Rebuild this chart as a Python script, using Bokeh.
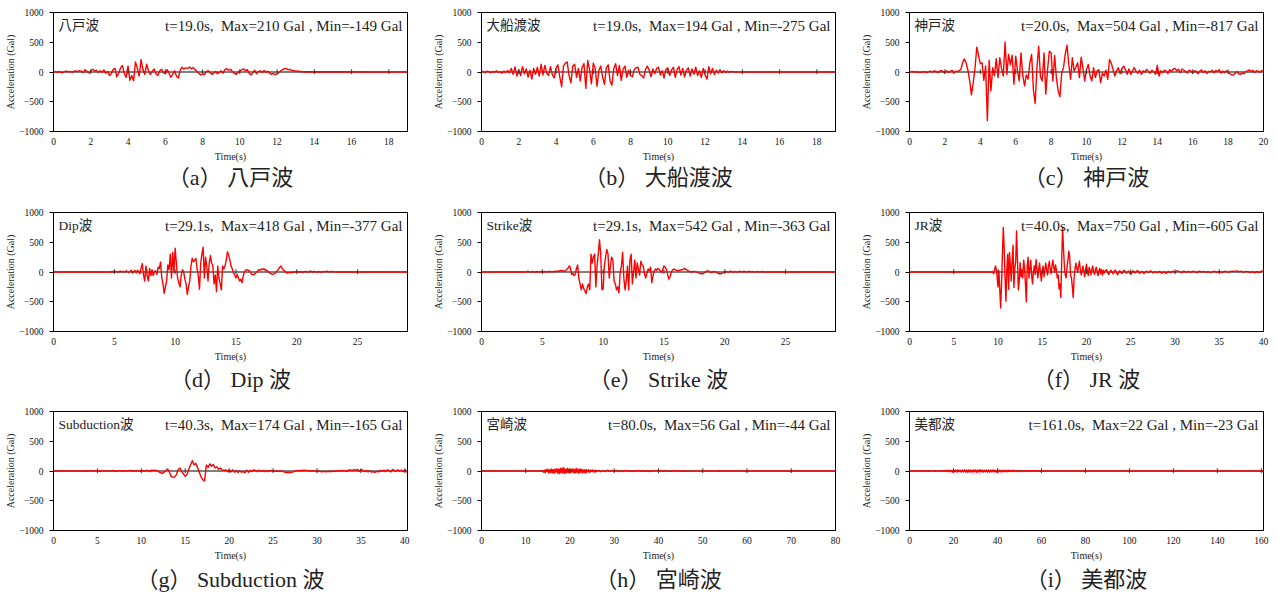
import numpy as np
from bokeh.plotting import figure
from bokeh.layouts import row, column
from bokeh.models import Span, Label, FixedTicker, Range1d, Title
from bokeh.embed import file_html
from bokeh.resources import INLINE

# ---------------------------------------------------------------------------
# Ground-motion records: acceleration in Gal, sampled at regular steps.
# Each record is a list of (start time [s], step [s], samples).
# ---------------------------------------------------------------------------
hachinohe_acc = [
    0, 5, -8, 10, -5, -12, 8, 15, 3, 10,
    -5, 12, 20, 5, 25, 10, -10, 40, 5, -15,
    20, 45, 15, 30, -10, 20, -5, 35, -20, 10,
    -60, -30, 40, 60, -80, -20, 70, 110, -30, -90,
    100, -140, -60, -149, 170, 60, -70, 210, 40, -40,
    130, 20, -40, 10, 50, -30, -60, 20, 45, -10,
    -30, 40, -20, -90, -40, 20, -70, -100, 30, 80,
    50, 70, 60, 85, 55, 75, 40, 10, -20, -50,
    -30, -45, 10, 20, -10, -40, -20, 10, -30, -10,
    20, -20, 40, 55, 30, 45, 10, -20, -40, -10,
    20, 35, 55, 20, 40, -20, -50, -10, 30, -30,
    10, 20, -10, 25, -5, 15, -20, -40, -25, -45,
    -30, -10, 20, 40, 55, 60, 35, 45, 20, 25,
    10, 20, 5, 12, 0, 5,
]

ofunato_acc = [
    0, 10, -10, 15, 5, -15, 10, -5, 20, -10,
    5, -20, 15, -10, 25, -15, 60, -40, 85, -70,
    40, -60, 90, -30, 50, -85, 30, -120, 60, -40,
    80, -70, 130, -50, 110, -20, -60, 90, -40, -100,
    60, 120, -80, -247, 100, 150, 170, -60, -180, 100,
    130, -90, 60, -150, 80, 140, -275, 194, 40, -200,
    150, 60, -240, 30, 100, -80, -208, 70, 120, -150,
    -220, 60, 140, -60, 110, -140, 50, 100, -90, 30,
    -60, -80, 40, 70, 80, -40, -60, -100, 40, 100,
    30, -80, 50, -30, 60, 80, -50, 20, -100, 40,
    70, -60, 30, 80, -90, 40, 90, -50, 60, -80,
    30, 70, -70, 50, -40, 80, -60, 20, -90, 60,
    -50, -120, 90, -30, 60, -40, 30, -20, 40, -15,
    20, -10, 15, -5, 10, 5, 0,
]

kobe_acc = [
    5, 0, 10, -5, 8, -10, 3, -8, 5, 0,
    -10, 8, 15, -5, 20, 10, -10, 15, 25, 5,
    -15, 20, -10, 10, 30, -20, 15, 5, 25, 40,
    160, 220, 150, 30, -150, -383, -180, 60, 417, 280,
    140, 155, -140, 100, -817, 200, -317, 72, -60, 222,
    -94, 240, 60, -67, 504, -40, 294, 120, 283, -205,
    267, 20, -150, 322, -60, -233, -50, -122, 155, 294,
    -300, -528, 70, 433, -80, -150, 322, -372, 40, 350,
    322, -150, 278, -100, -317, -417, -11, 72, 300, 450,
    128, -122, 239, 17, 80, 155, -94, 250, 60, -150,
    44, 128, -60, -150, 72, -94, 17, 40, -178, -20,
    -67, 30, -122, 211, 150, 44, -67, 20, 72, -30,
    60, 100, 40, -39, 50, -39, 20, 72, 10, -20,
    30, -39, 20, 0, 44, 10, -20, 30, 5, -40,
    111, -67, 20, -10, 30, 15, -25, 40, 10, 50,
    60, 20, 45, -10, 50, 30, 10, -15, 30, 20,
    -20, 25, 10, -30, 15, 35, -10, 20, -25, 10,
    5, 30, -15, 25, 10, 40, -20, 15, -10, 20,
    5, -30, -45, -50, -20, 10, -30, -40, -20, -30,
    10, 20, 35, 5, 30, -10, 20, 15, -5, 25, 10,
]

dip_acc = [
    0, 5, -5, 10, 0,
    20, 5, 10, -5, 8, 15, 0, 10, -5, 12,
    20, 5, -10, 15, 30, -20, 10, 25, -15, 30,
    10, -30, 60, 140, -50, -152, 100, -60, -150, 60,
    -60, 40, -60, 10, 20, -40, 80, 60, 170, -100,
    -200, -360, -250, -150, 120, 40, 300, -100, 330, 0,
    400, 150, -100, -180, -250, -50, 40, 0, -120, -200,
    -377, -250, -150, 100, 230, 170, 200, 230, 60, -60,
    -290, 150, 300, 418, -100, 250, 100, -150, 150, 280,
    150, 100, -200, -50, -330, 100, -100, -200, -300, 100,
    50, 100, 200, 340, 280, 200, 100, 50, -20, -50,
    -100, -40, -100, -150, -120, -180, -60, 0, 30, 40,
    30, 20, -10, -40, -50, -40, -20, 0, 20, 40,
    30, 50, 45, 55, 30, 35, 15, 0, -20, -30,
    -40, -35, -20, 0, 20, 50, 80, 100, 60, 30,
    20, 0, -20, -15, -10, -5, -10, -5, 0, 5,
    10, 5, -5, 8, 0, -8, 5, 10, 3, -5,
    5, 12, 8, 0, 10, 5, -5, 3, 8, 0,
    -5, 5, 10, 3, 8, 12, 5, 0, 10, 5,
    8, 3, 0,
]

strike_acc = [
    0, 15, 5,
    0, -5, 10, 3, -5, 8, 0, 5, -3, 10,
    5, 0, 8, -5, 10, 3, 12, 5, 0, 10,
    8, 15, 5, 20, 10, 30, 15, 25, 10, 20,
    40, 60, 100, 80, -40, -20, -60, -40, 50, 120,
    -100, -200, -300, -200, -280, -320, -363, -250, -200, -300,
    300, 150, 250, 300, -250, 100, 300, 542, 300, -300,
    -280, 100, 250, 380, 300, -100, 100, 250, 200, -150,
    -200, -300, -250, -350, 0, 100, 330, -100, -300, -150,
    100, -300, 200, 300, -200, 0, 200, -100, 150, 50,
    -50, 180, 120, 100, -30, -100, -20, 50, 20, 80,
    -180, -60, 20, 50, 30, 60, 40, 20, -10, 40,
    100, 80, 50, -40, -120, -80, 0, 30, 50, 40,
    30, 20, 30, 25, 40, 35, 50, 60, 45, 30,
    20, 10, 5, 0, 10, 10, 5, 0, -10, -20,
    -25, -30, -30, -15, 0, 15, 20, 10, 0, -10,
    0, 10, 5, -5, -15, -30, -25, -30, -20, -5,
    5, 10, 3, -5, 8, 12, 5, 0, 8, 3,
    -5, 5, 10, 8, 0, 5, 12, 3, -3, 8,
    10, 5, 0, 8, 3, -5, 5, 10, 3, 0,
    5, 8, 3, 0,
]

jr_main_acc = [
    0, 10, -30, 20, 100, 60, -80,
    -250, 20, -290, -605, -200, 300, 750, 400, -100, -490,
    50, 300, -290, 330, 100, -150, 200, 450, -260, 60,
    180, 690, 200, -300, -150, 157, -80, 40, -100, 200,
    80, -200, -500, 100, 250, -100, 50, 200, -50, -200,
    0, 100, -40, 210, 60, -100, 40, 150, -20, -150,
    20, 100, -80, 50, 150, 30, -50, 100, 180, 50,
    -30, 100, 200, 80, 0, 120, 30, -100, -50, -280,
    -200, -430, 200, 750, 400, 100, -50, -100, 80, 200,
    350, 250, -50, -100, -250, -430, -100, 50, 150, 60,
    0, 100, 180, 40, -50, 20, 100, 10, -80, 50,
    130, 20, -60, 80, 30, -50, 40, 100, 10, -40,
    30, 80, 0, -60, 20, 60, -30, 40, -50, 30,
    -20,
]

jr_tail_acc = [
    40, -40, 30, -30, 35, -45, 20, -25, 30, -20,
    15, -40, 20, -15, 25, -20, 10, -25, 15, -10,
    20, -15, 5, -10, 10, -20, 5, -25, 10, -10,
    15, -5, 20, 5, -10, 15, -5, 10, -8, 12,
    5, -10, 15, 0, 10, -5, 8, -10, 5, 12,
    -5, 10, -8, 5, 12, -5, 8, 15, 10, 20,
    5, 15, -5, 10, 5, -10, 8, -15, 5, -10,
    12, 20,
]

subduction_acc = [
    0, 5, -3, 8, 2, -5, 6, 0, 4, -4,
    3, 7, -2, 5, -6, 2, 8, 0, -4, 5,
    2, -5, 8, 3, -3, 6, 10, 0, -6, 8,
    4, -8, 10, 5, -5, 12, 6, -10, 15, 8,
    15, 5, -15, -30, -40, -20, 10, 34, -20, -90,
    -110, -100, -60, 30, 50, -10, -50, -90, -60, 30,
    100, 174, 100, 130, 60, -20, -100, -150, -165, 100,
    60, 120, 80, 110, 50, 70, 30, 50, 20, 10,
    20, -10, 15, -15, 20, -20, 10, -25, 5, -20,
    -10, -30, 15, -20, 10, -10, 20, 5, -10, 15,
    -5, 10, -10, 8, -12, 5, 10, -8, 6, -5,
    3, -8, 5, -15, -20, -25, -22, -28, -20, -10,
    5, 10, -3, 12, 8, 15, 5, 10, -5, 8,
    0, 5, -10, 3, -8, -12, -5, -15, -8, -5,
    -12, 0, -8, 5, -5, 8, -3, 10, 5, -5,
    15, 20, 5, 25, 10, 30, -5, 20, 15, -10,
    10, -15, 5, -20, -10, -25, -5, -15, 10, -5,
    15, -10, 20, 5, -15, 25, 10, -5, 20, 0,
    15, -10, 20, -15,
]

miyazaki_main_acc = [
    -20, 15, -30, 25, -10, 30, -35, 20, -25, 35,
    -30, 25, -40, 30, -20, 40, -35, 30, -44, 45,
    -30, 50, -35, 56, -40, 30, -30, 45, -25, 35,
    -35, 30, -20, 40, -30, 25, -35, 45, -25, 30,
    -40, 35, -20, 30, -30, 20, -25, 25, -35, 20,
    -15, 20, -25, 15, -10, 20, -15, 10, -20, 15,
    -10,
]

miyazaki_tail_acc = [
    10, -12, 8, -10, 15, -8, 10, -5, 12, -10,
    5, -8, 10, -5, 8, -10, 6, -4, 10, -6,
    8, -5, 4, -8, 6, -3, 10, -5, 8, -4,
    5, -6, 3, -5, 8, -3, 4, -2, 5, -4,
    3, -5, 2, -3, 6, -2, 3, -4, 2, -3,
    4, -2, 3, -2, 5, 0,
]

mito_acc = [
    3, -5, 8, -2, 4, -6, 2, 5, -3, 1,
    6, -4, 2, -3, 5, -2, 3, -5, 4, -3,
    8, -10, 12, -8, 15, -12, 10, -15, 18, -10,
    15, -18, 20, -12, 16, -20, 14, -15, 22, -18,
    18, -23, 20, -16, 15, -20, 18, -14, 20, -22,
    16, -18, 22, -15, 18, -20, 14, -16, 19, -18,
    15, -20, 17, -14, 20, -16, 12, -18, 15, -13,
    16, -14, 12, -15, 14, -12, 10, -13, 12, -10,
    10, -8, 12, -9, 8, -10, 9, -6, 8, -7,
    6, -8, 5, -6, 7, -4, 6, -5, 4, -6,
    5, -3, 6, -4, 3, -5, 4, -2, 5, -3,
    3, -4, 2, -3, 4, -2, 0,
]

records = [
    [(0.0, 0.1, hachinohe_acc)],
    [(0.0, 0.1, ofunato_acc)],
    [(0.0, 0.1, kobe_acc)],
    [(4.5, 0.1, dip_acc)],
    [(3.7, 0.1, strike_acc)],
    [(9.3, 0.1, jr_main_acc), (22.25, 0.25, jr_tail_acc)],
    [(3.6, 0.2, subduction_acc)],
    [(14.0, 0.2, miyazaki_main_acc), (26.5, 0.5, miyazaki_tail_acc)],
    [(6.0, 0.5, mito_acc)],
]

wave_names = ["八戸波", "大船渡波", "神戸波", "Dip波", "Strike波", "JR波",
              "Subduction波", "宮崎波", "美都波"]
captions = ["（a） 八戸波", "（b） 大船渡波", "（c） 神戸波",
            "（d） Dip 波", "（e） Strike 波", "（f） JR 波",
            "（g） Subduction 波", "（h） 宮崎波", "（i） 美都波"]
durations = [19.0, 19.0, 20.0, 29.1, 29.1, 40.0, 40.3, 80.0, 161.0]
time_ticks = [
    [0, 2, 4, 6, 8, 10, 12, 14, 16, 18],
    [0, 2, 4, 6, 8, 10, 12, 14, 16, 18],
    [0, 2, 4, 6, 8, 10, 12, 14, 16, 18, 20],
    [0, 5, 10, 15, 20, 25],
    [0, 5, 10, 15, 20, 25],
    [0, 5, 10, 15, 20, 25, 30, 35, 40],
    [0, 5, 10, 15, 20, 25, 30, 35, 40],
    [0, 10, 20, 30, 40, 50, 60, 70, 80],
    [0, 20, 40, 60, 80, 100, 120, 140, 160],
]
acc_ticks = [-1000, -500, 0, 500, 1000]

# ---------------------------------------------------------------------------
# Page geometry (pixels)
# ---------------------------------------------------------------------------
FRAME_W, FRAME_H = 354, 119
BORDER_LEFT = 53
col_widths = [428, 428, 421]
row_heights = [200, 200, 194]
row_tops = [12, 12, 11]
caption_valign = ["top", "top", "bottom"]
caption_standoff = [0, 4, 2]
caption_dx = [-7, -26, -21, -11, 4, 3, 15, -18, -1]

SERIF = "Liberation Serif, Noto Sans CJK JP"
RED = "#ff0000"
NBSP = "\u00a0"


def build_trace(segments, duration):
    """Join the sampled segments, padded with the quiet (zero) record."""
    t_parts = [np.array([0.0])]
    a_parts = [np.array([0.0])]
    for t0, dt, vals in segments:
        if t0 > 0:
            t_parts.append(np.array([t0 - dt]))
            a_parts.append(np.array([0.0]))
        t_parts.append(t0 + dt * np.arange(len(vals)))
        a_parts.append(np.asarray(vals, dtype=float))
    t_parts.append(np.array([duration]))
    a_parts.append(np.array([0.0]))
    return np.concatenate(t_parts), np.concatenate(a_parts)


def style_axis(axis, label, ticks, tick_out, label_standoff):
    axis.ticker = FixedTicker(ticks=ticks)
    axis.axis_label = label
    axis.axis_label_text_font = "Liberation Serif"
    axis.axis_label_text_font_size = "10px"
    axis.axis_label_text_font_style = "normal"
    axis.axis_label_text_color = "#222222"
    axis.axis_label_standoff = label_standoff
    axis.major_label_text_font = "Liberation Serif"
    axis.major_label_text_font_size = "9.5px"
    axis.major_label_text_color = "#111111"
    axis.major_label_standoff = 6
    axis.major_tick_out = tick_out
    axis.major_tick_in = 0
    axis.minor_tick_out = 0
    axis.minor_tick_in = 0
    axis.axis_line_color = "black"
    axis.major_tick_line_color = "black"


def make_panel(i):
    r, c = divmod(i, 3)
    w, h = col_widths[c], row_heights[r]
    top = row_tops[r]
    dur = durations[i]
    p = figure(
        width=w, height=h,
        x_range=Range1d(0, dur), y_range=Range1d(-1000, 1000),
        output_backend="svg", toolbar_location=None,
        min_border_left=BORDER_LEFT,
        min_border_right=w - BORDER_LEFT - FRAME_W,
        min_border_top=top,
        min_border_bottom=h - top - FRAME_H,
    )
    p.background_fill_color = "white"
    p.border_fill_color = "white"
    p.outline_line_color = "black"
    p.outline_line_width = 1
    p.xgrid.visible = False
    p.ygrid.visible = False

    style_axis(p.yaxis[0], "Acceleration (Gal)", acc_ticks, 4, 0)
    style_axis(p.xaxis[0], "Time(s)", time_ticks[i], 0, 3)

    # zero line under the record
    p.add_layout(Span(location=0, dimension="width", line_color="black",
                      line_width=1, level="underlay"))

    t, a = build_trace(records[i], dur)
    p.line(t, a, line_color=RED, line_width=1.4, line_join="round")

    # small tick marks crossing the zero line
    ticks = time_ticks[i][1:]
    p.segment(x0=ticks, y0=[-35] * len(ticks), x1=ticks, y1=[45] * len(ticks),
              line_color="#333333", line_width=1)

    p.add_layout(Label(x=5, y=FRAME_H - 13, x_units="screen", y_units="screen",
                       text=wave_names[i], text_font=SERIF,
                       text_font_size="13.5px", text_color="#222222",
                       text_baseline="middle", text_align="left"))
    summary = "t={:.1f}s,{}Max={:d} Gal , Min={:d} Gal".format(
        dur, NBSP + NBSP, int(round(a.max())), int(round(a.min())))
    p.add_layout(Label(x=FRAME_W - 5, y=FRAME_H - 13, x_units="screen",
                       y_units="screen", text=summary, text_font=SERIF,
                       text_font_size="15px", text_color="#222222",
                       text_baseline="middle", text_align="right"))

    p.add_layout(Title(text=captions[i], align="center", offset=caption_dx[i],
                       standoff=caption_standoff[r],
                       vertical_align=caption_valign[r], text_font=SERIF,
                       text_font_size="22px", text_font_style="normal",
                       text_color="#222222"), "below")
    return p


panels = [make_panel(i) for i in range(9)]
layout = column(
    row(panels[0], panels[1], panels[2]),
    row(panels[3], panels[4], panels[5]),
    row(panels[6], panels[7], panels[8]),
)

open("out.html", "w").write(file_html(layout, INLINE))
